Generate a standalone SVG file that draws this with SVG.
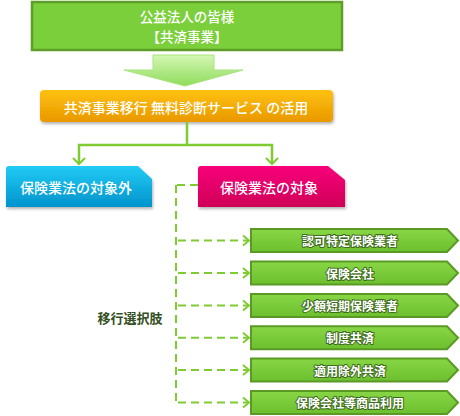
<svg xmlns="http://www.w3.org/2000/svg" width="460" height="416" viewBox="0 0 460 416">
<style>
text{font-family:"Noto Sans CJK JP","Noto Sans",sans-serif;text-anchor:middle;dominant-baseline:central}
.wt{fill:#ffffff;font-size:14px;font-weight:500}
.gl{fill:#ffffff;font-size:12px;font-weight:700;stroke:#3d6b1c;stroke-width:2px;paint-order:stroke;stroke-linejoin:round}
.opt{fill:url(#gOpt);stroke:#5a9a24;stroke-width:2}
.solid{fill:none;stroke:#7fcc32;stroke-width:2.5}
.dash{fill:none;stroke:#7fcc32;stroke-width:2;stroke-dasharray:8 5}
.head{fill:none;stroke:#7fcc32;stroke-width:2;stroke-linejoin:miter}
</style>
<defs>
<linearGradient id="gOpt" x1="0" y1="0" x2="0" y2="1"><stop offset="0" stop-color="#88d646"/><stop offset="1" stop-color="#6cbf2e"/></linearGradient>
<linearGradient id="gBig" x1="0" y1="0" x2="0" y2="1"><stop offset="0" stop-color="#d4f7b4"/><stop offset="1" stop-color="#8fdc5c"/></linearGradient>
<linearGradient id="gOr" x1="0" y1="0" x2="0" y2="1"><stop offset="0" stop-color="#ffc20e"/><stop offset="1" stop-color="#e99800"/></linearGradient>
<linearGradient id="gBl" x1="0" y1="0" x2="0" y2="1"><stop offset="0" stop-color="#22cbf5"/><stop offset="1" stop-color="#0093cc"/></linearGradient>
<linearGradient id="gPk" x1="0" y1="0" x2="0" y2="1"><stop offset="0" stop-color="#f8007a"/><stop offset="1" stop-color="#cf0058"/></linearGradient>
<filter id="sh" x="-10%" y="-20%" width="120%" height="150%"><feDropShadow dx="1" dy="2" stdDeviation="1.5" flood-color="#000" flood-opacity="0.3"/></filter>
</defs>

<g id="top">
<rect x="32" y="2" width="310" height="48" fill="#7bcf3a" stroke="#5c9e27" stroke-width="2.5"/>
<text class="wt" x="187" y="15.5" style="font-size:13.5px">公益法人の皆様</text>
<text class="wt" x="187" y="35.5" style="font-size:13.5px">【共済事業】</text>
</g>

<g id="bigarrow">
<polygon points="153,55 214,55 214,70 243,70 185,86 124,70 153,70" fill="url(#gBig)" stroke="#a8e47e" stroke-width="1"/>
</g>

<g id="service">
<rect x="40" y="90" width="293" height="32" rx="4" fill="url(#gOr)" filter="url(#sh)"/>
<text class="wt" x="186" y="107">共済事業移行 無料診断サービス の活用</text>
</g>

<g id="outside">
<path d="M9,166 L138,166 L152,179 L152,207 L6,207 L6,169 Q6,166 9,166 Z" fill="url(#gBl)" filter="url(#sh)"/>
<text class="wt" x="76" y="187">保険業法の対象外</text>
</g>

<g id="inside">
<path d="M201,166 L328,166 L345,180 L345,207 L198,207 L198,169 Q198,166 201,166 Z" fill="url(#gPk)" filter="url(#sh)"/>
<text class="wt" x="269" y="187">保険業法の対象</text>
</g>

<g id="label-choice">
<text x="130" y="317" style="fill:#344f22;font-size:13px;font-weight:700">移行選択肢</text>
</g>

<g id="connectors">
<polyline class="solid" points="187,122 187,145"/>
<polyline class="solid" points="79,164 79,145 272,145 272,164"/>
<polyline class="head" points="73,158 79,164 85,158"/>
<polyline class="head" points="266,158 272,164 278,158"/>
<line class="dash" x1="198" y1="185" x2="176" y2="185"/>
<line class="dash" x1="176" y1="185" x2="176" y2="403"/>
<line class="dash" x1="178" y1="240.5" x2="248" y2="240.5"/>
<line class="dash" x1="178" y1="273" x2="248" y2="273"/>
<line class="dash" x1="178" y1="305.5" x2="248" y2="305.5"/>
<line class="dash" x1="178" y1="337.7" x2="248" y2="337.7"/>
<line class="dash" x1="178" y1="370" x2="248" y2="370"/>
<line class="dash" x1="178" y1="402.5" x2="248" y2="402.5"/>
<polyline class="head" points="243,235.5 249,240.5 243,245.5"/>
<polyline class="head" points="243,268 249,273 243,278"/>
<polyline class="head" points="243,300.5 249,305.5 243,310.5"/>
<polyline class="head" points="243,332.7 249,337.7 243,342.7"/>
<polyline class="head" points="243,365 249,370 243,375"/>
<polyline class="head" points="243,397.5 249,402.5 243,407.5"/>
</g>

<g id="opt1"><polygon class="opt" points="251,229 447,229 458,240.5 447,252 251,252"/><text class="gl" x="350" y="240.5">認可特定保険業者</text></g>
<g id="opt2"><polygon class="opt" points="251,261.5 447,261.5 458,273 447,284.5 251,284.5"/><text class="gl" x="350" y="273">保険会社</text></g>
<g id="opt3"><polygon class="opt" points="251,294 447,294 458,305.5 447,317 251,317"/><text class="gl" x="350" y="305.5">少額短期保険業者</text></g>
<g id="opt4"><polygon class="opt" points="251,326.2 447,326.2 458,337.7 447,349.2 251,349.2"/><text class="gl" x="350" y="337.7">制度共済</text></g>
<g id="opt5"><polygon class="opt" points="251,358.5 447,358.5 458,370 447,381.5 251,381.5"/><text class="gl" x="350" y="370">適用除外共済</text></g>
<g id="opt6"><polygon class="opt" points="251,391 447,391 458,402.5 447,414 251,414"/><text class="gl" x="350" y="402.5">保険会社等商品利用</text></g>
</svg>
